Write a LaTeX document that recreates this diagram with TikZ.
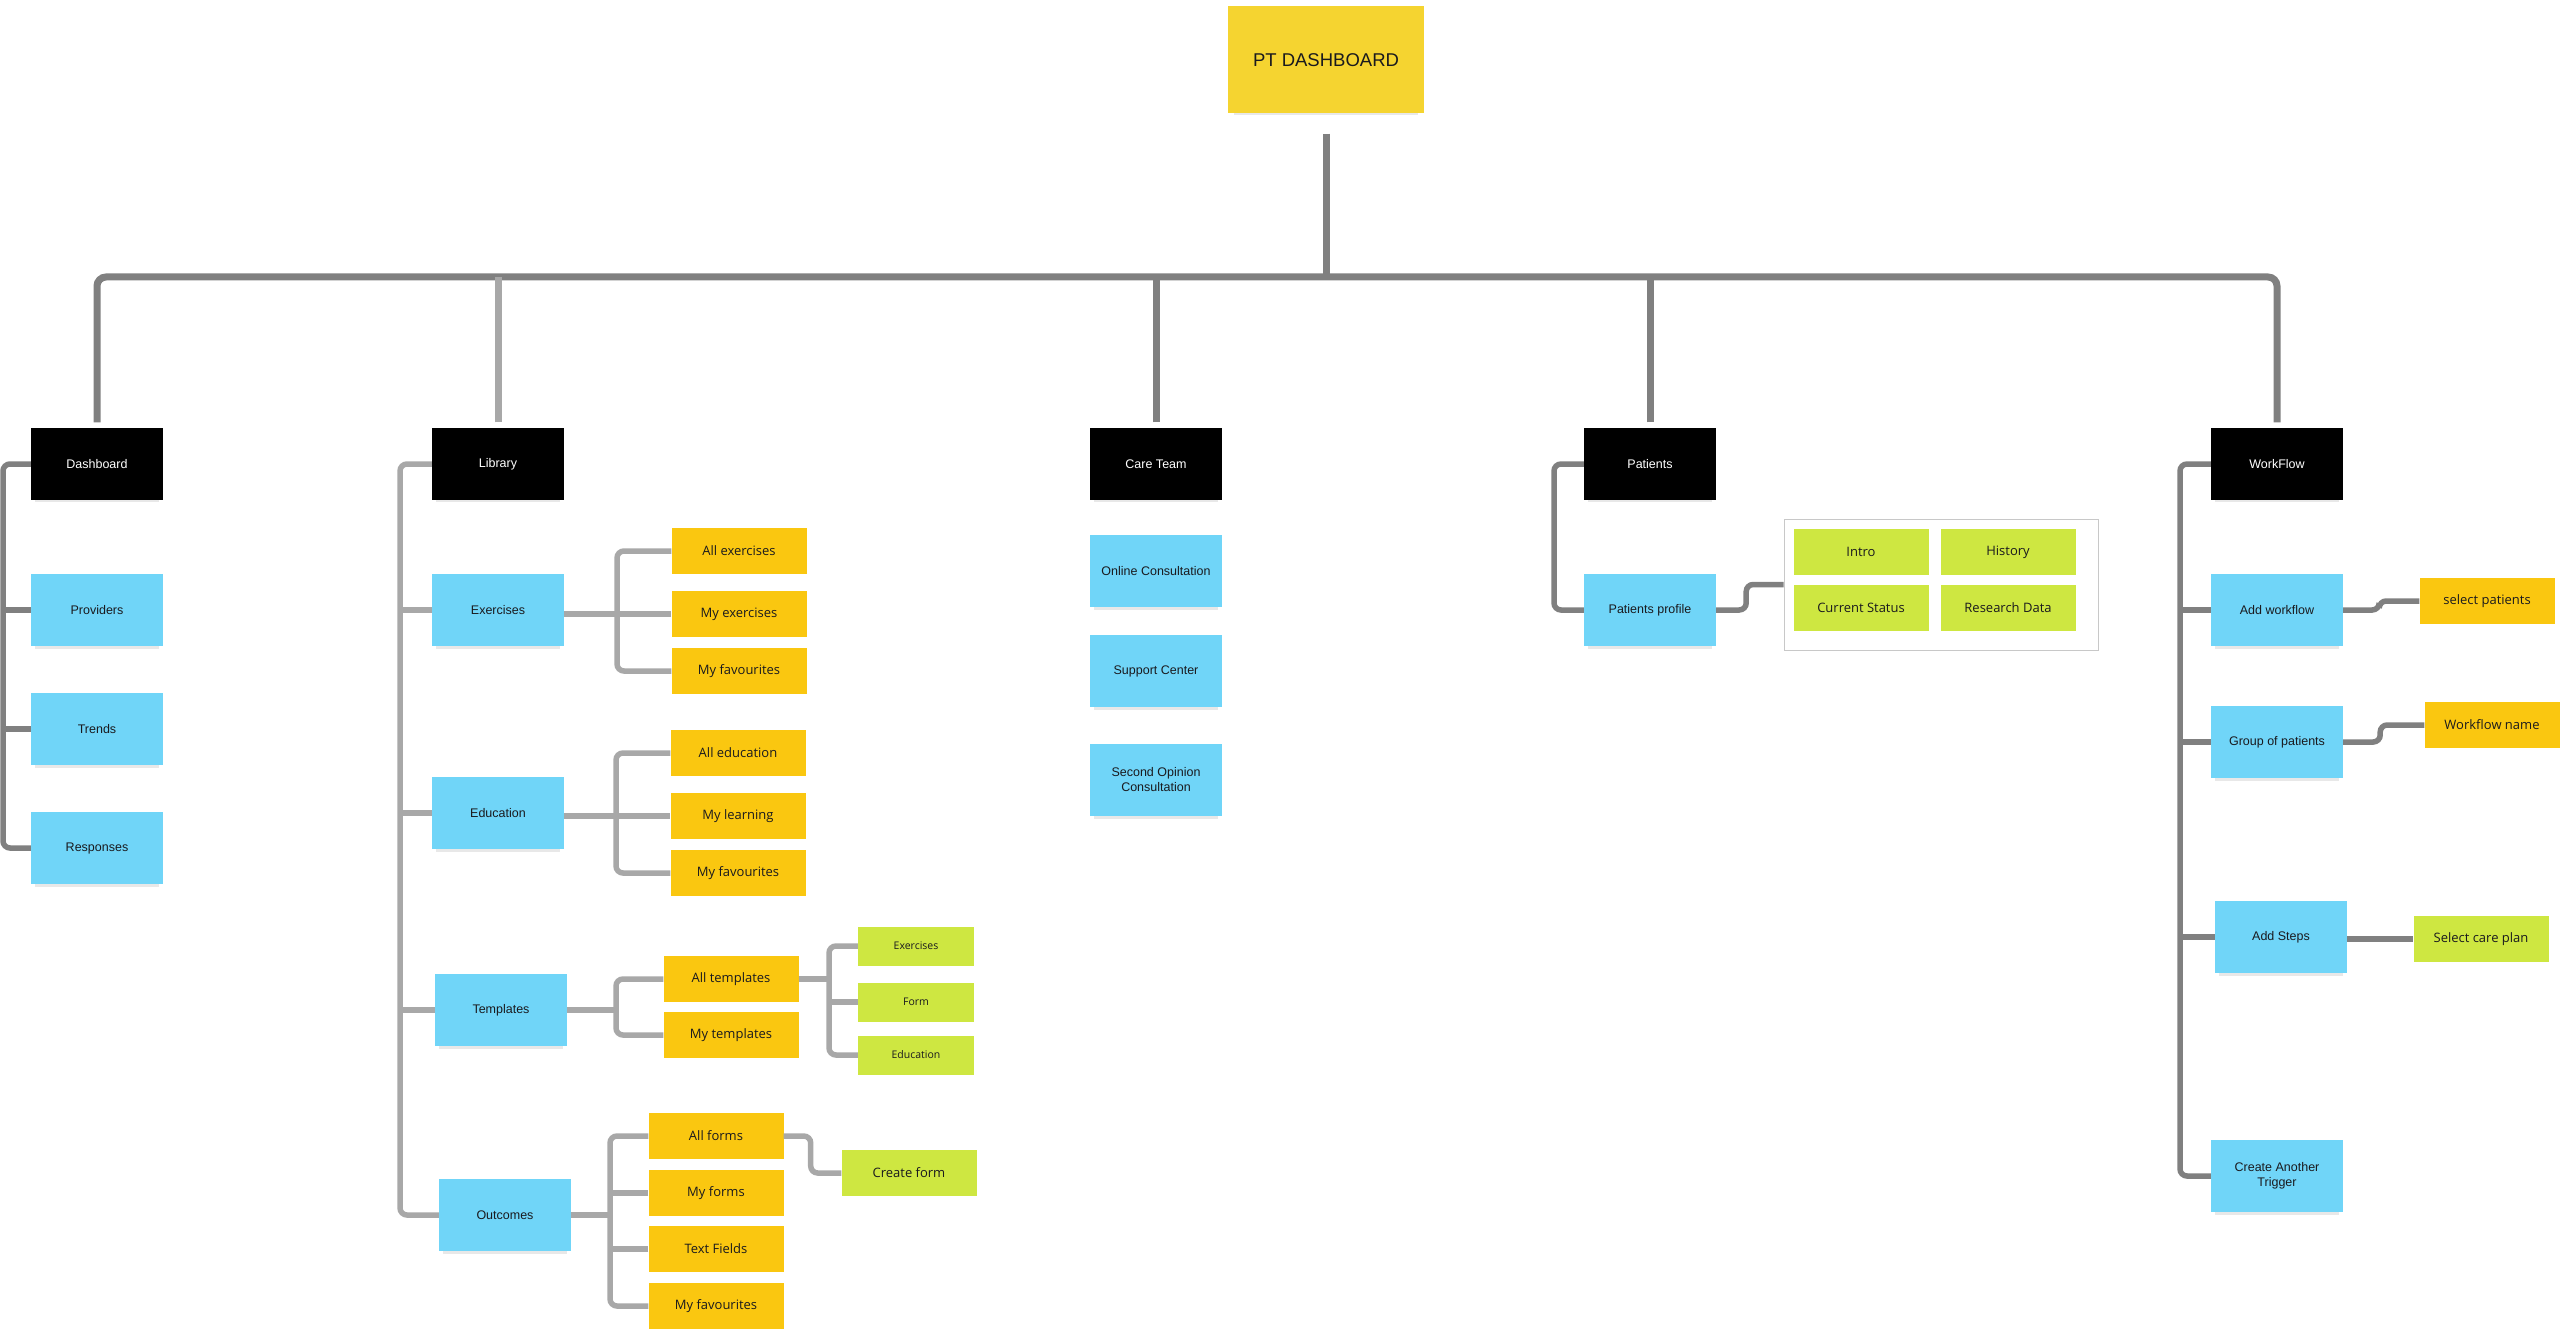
\documentclass[tikz,border=0pt]{standalone}
\usepackage{fontspec}
\setmainfont{Liberation Sans}
\newfontfamily\notefont{Open Sans}
\usepackage{tikz}
\usetikzlibrary{shadows}
\definecolor{ptyellow}{RGB}{245, 212, 48}
\definecolor{noteblue}{RGB}{112, 213, 248}
\definecolor{noteorange}{RGB}{250, 199, 16}
\definecolor{notegreen}{RGB}{206, 231, 65}
\definecolor{notetext}{RGB}{26, 26, 30}
\definecolor{linedark}{RGB}{128, 128, 128}
\definecolor{linelight}{RGB}{168, 168, 168}
\definecolor{boxframe}{RGB}{200, 200, 200}

\begin{document}
\begin{tikzpicture}[x=1pt, y=-1pt,
    sticky/.style={drop shadow={shadow xshift=0pt, shadow yshift=-5pt, shadow scale=.94, opacity=.18}},
    rootnote/.style={sticky, fill=ptyellow, text=notetext, minimum width=196pt, minimum height=107pt,
      font=\fontsize{18.5}{22}\selectfont},
    sectionnote/.style={sticky, fill=black, text=white, minimum width=132pt, minimum height=71pt,
      font=\fontsize{12.5}{15}\selectfont},
    pagenote/.style={sticky, fill=noteblue, text=notetext, minimum width=132pt, minimum height=72pt,
      align=center, font=\fontsize{12.5}{15}\selectfont},
    optionnote/.style={fill=noteorange, text=notetext, minimum width=135pt, minimum height=46pt,
      font=\notefont\fontsize{13}{16}\selectfont},
    detailnote/.style={fill=notegreen, text=notetext, minimum width=135pt, minimum height=46pt,
      font=\notefont\fontsize{13}{16}\selectfont},
    smalldetail/.style={detailnote, minimum width=116pt, minimum height=39pt,
      font=\notefont\fontsize{10.5}{13}\selectfont},
    trunk/.style={draw=linedark, line width=7pt, rounded corners=9pt},
    branch/.style={draw=linedark, line width=5.5pt, rounded corners=7pt},
    lightbranch/.style={branch, draw=linelight}]

  \useasboundingbox (0,0) rectangle (2560,1329);

  % root
  \node[rootnote] (pt) at (1326,60) {PT DASHBOARD};

  % sections
  \node[sectionnote] (dash) at (97,464) {Dashboard};
  \node[sectionnote] (lib) at (498,464) {Library};
  \node[sectionnote] (care) at (1156,464) {Care Team};
  \node[sectionnote] (pat) at (1650,464) {Patients};
  \node[sectionnote] (work) at (2277,464) {WorkFlow};

  % Dashboard
  \node[pagenote] (prov) at (97,610) {Providers};
  \node[pagenote] (trend) at (97,729) {Trends};
  \node[pagenote] (resp) at (97,848) {Responses};

  % Library
  \node[pagenote] (exer) at (498,610) {Exercises};
  \node[pagenote] (edu) at (498,813) {Education};
  \node[pagenote] (templ) at (501,1010) {Templates};
  \node[pagenote] (outc) at (505,1215) {Outcomes};

  \node[optionnote] (allex) at (739,551) {All exercises};
  \node[optionnote] (myex) at (739,614) {My exercises};
  \node[optionnote] (myfav) at (739,671) {My favourites};

  \node[optionnote] (alled) at (738,753) {All education};
  \node[optionnote] (mylearn) at (738,816) {My learning};
  \node[optionnote] (myfaved) at (738,873) {My favourites};

  \node[optionnote] (alltm) at (731,979) {All templates};
  \node[optionnote] (mytm) at (731,1035) {My templates};
  \node[smalldetail] (gex) at (916,946) {Exercises};
  \node[smalldetail] (gform) at (916,1002) {Form};
  \node[smalldetail] (gedu) at (916,1055) {Education};

  \node[optionnote] (allfm) at (716,1136) {All forms};
  \node[optionnote] (myfm) at (716,1193) {My forms};
  \node[optionnote] (txtf) at (716,1249) {Text Fields};
  \node[optionnote] (myfavo) at (716,1306) {My favourites};
  \node[detailnote] (crform) at (909,1173) {Create form};

  % Care Team
  \node[pagenote] (online) at (1156,571) {Online Consultation};
  \node[pagenote] (support) at (1156,671) {Support Center};
  \node[pagenote] (second) at (1156,780) {Second Opinion\\Consultation};

  % Patients
  \node[pagenote] (pprof) at (1650,610) {Patients profile};
  \node[draw=boxframe, fill=white, line width=1pt, minimum width=314pt, minimum height=131pt] (grp) at (1941,584.5) {};
  \node[detailnote] (intro) at (1861,552) {Intro};
  \node[detailnote] (hist) at (2008,552) {History};
  \node[detailnote] (curst) at (1861,608) {Current Status};
  \node[detailnote] (resd) at (2008,608) {Research Data};

  % WorkFlow
  \node[pagenote] (addwf) at (2277,610) {Add workflow};
  \node[pagenote] (grppat) at (2277,742) {Group of patients};
  \node[pagenote] (addst) at (2281,937) {Add Steps};
  \node[pagenote] (trig) at (2277,1176) {Create Another\\Trigger};
  \node[optionnote] (selpat) at (2487,601) {select patients};
  \node[optionnote] (wfname) at (2492,725) {Workflow name};
  \node[detailnote] (selcare) at (2481,939) {Select care plan};

  % trunk
  \coordinate (bus) at (1326,277);
  \draw[trunk, shorten <=20pt] (pt.south) -- (bus);
  \draw[trunk, shorten <=6pt, shorten >=6pt] (dash.north) |- (bus) -| (work.north);
  \draw[trunk, draw=linelight, shorten <=6pt] (lib.north) -- (lib.north |- bus);
  \foreach \s in {care, pat}
    \draw[trunk, shorten <=6pt] (\s.north) -- (\s.north |- bus);

  % Dashboard branch
  \coordinate (dashbus) at (3,0);
  \draw[branch] (dash.west) -| (dashbus |- prov) |- (resp.west);
  \foreach \n in {prov, trend}
    \draw[branch] (\n.west) -- (\n.west -| dashbus);

  % Library branches
  \coordinate (libbus) at (400,0);
  \draw[lightbranch] (lib.west) -| (libbus |- exer) |- (outc.west);
  \foreach \n in {exer, edu, templ}
    \draw[lightbranch] (\n.west) -- (\n.west -| libbus);

  \coordinate (exbus) at (617,0);
  \draw[lightbranch] (allex.west) -| (exbus |- myex) |- (myfav.west);
  \draw[lightbranch] (exer.east |- myex) -- (myex.west);

  \coordinate (edbus) at (616,0);
  \draw[lightbranch] (alled.west) -| (edbus |- mylearn) |- (myfaved.west);
  \draw[lightbranch] (edu.east |- mylearn) -- (mylearn.west);

  \coordinate (tmbus) at (616,0);
  \draw[lightbranch] (alltm.west) -| (tmbus |- templ) |- (mytm.west);
  \draw[lightbranch] (templ.east) -- (templ.east -| tmbus);

  \coordinate (gbus) at (829,0);
  \draw[lightbranch] (gex.west) -| (gbus |- gform) |- (gedu.west);
  \draw[lightbranch] (alltm.east) -- (alltm.east -| gbus);
  \draw[lightbranch] (gform.west) -- (gform.west -| gbus);

  \coordinate (obus) at (610,0);
  \draw[lightbranch] (allfm.west) -| (obus |- myfm) |- (myfavo.west);
  \foreach \n in {myfm, txtf}
    \draw[lightbranch] (\n.west) -- (\n.west -| obus);
  \draw[lightbranch] (outc.east) -- (outc.east -| obus);
  \draw[lightbranch] (allfm.east) -- ++(27,0) |- (crform.west);

  % Patients branch
  \coordinate (patbus) at (1554,0);
  \draw[branch] (pat.west) -- (pat.west -| patbus) |- (pprof.west);
  \draw[branch] (pprof.east) -- ++(30,0) |- (grp.west);

  % WorkFlow branch
  \coordinate (wfbus) at (2180,0);
  \draw[branch] (work.west) -- (work.west -| wfbus) |- (trig.west);
  \foreach \n in {addwf, grppat, addst}
    \draw[branch] (\n.west) -- (\n.west -| wfbus);
  \draw[branch] (addwf.east) -- ++(36,0) |- (selpat.west);
  \draw[branch] (grppat.east) -- ++(37,0) |- (wfname.west);
  \draw[branch] (addst.east |- selcare) -- (selcare.west);
\end{tikzpicture}
\end{document}
